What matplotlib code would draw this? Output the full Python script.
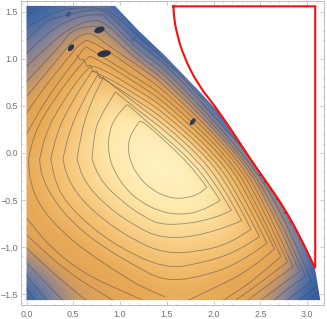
import numpy as np
import matplotlib
matplotlib.use("Agg")
import matplotlib.pyplot as plt
from matplotlib.colors import LinearSegmentedColormap
from matplotlib.patches import Ellipse, PathPatch, Polygon
from matplotlib.path import Path
from matplotlib.ticker import MultipleLocator

plt.rcParams['font.family'] = ['Liberation Sans', 'DejaVu Sans']

nan = float("nan")

# граница области
domain_x = [0, 0, 0.947, 1.2, 1.48, 1.835, 2.05, 2.41, 2.55, 2.747, 2.925, 3.086, 3.14]
domain_y = [-1.565, 1.565, 1.565, 1.3, 1.035, 0.67, 0.44, -0.09, -0.287, -0.57, -0.89, -1.24, -1.565]

# красный контур
red_x = [1.57, 1.575, 1.606, 1.675, 1.835, 2.05, 2.41, 2.55, 2.747, 2.925, 3.086, 3.086, 1.57]
red_y = [1.56, 1.45, 1.276, 1.04, 0.72, 0.457, -0.09, -0.287, -0.57, -0.89, -1.227, 1.56, 1.56]

# значения поля (номер уровня) на сетке
grid_x = [0, .25, .5, .75, 1, 1.25, 1.5, 1.75, 2, 2.25, 2.5, 2.75, 3, 3.25]
grid_y = [1.5, 1.25, 1, .75, .5, .25, 0, -.25, -.5, -.75, -1, -1.25, -1.5]
field = [
    [17.5, 16.5, 15.5, 14.7, 17, 18, 18.5, 18.5, 18.5, 18.5, 18.5, 18.5, 18.5, 18.5],
    [15.4, 13.6, 11.5, 10.3, 13.3, 18, 19, 19, 19, 19, 19, 19, 19, 19],
    [13.5, 12, 9.3, 8.2, 10.3, 13, 16.5, 19, 19.5, 19.5, 19.5, 19.5, 19.5, 19.5],
    [12, 10, 7.3, 4.6, 7.4, 9, 11.9, 15, 19, 19.5, 19.5, 19.5, 19.5, 19.5],
    [10.4, 8, 5.8, 3.5, 2.7, 5, 8, 11.7, 16.5, 19, 19.5, 19.5, 19.5, 19.5],
    [9.2, 7.2, 4.8, 2.9, 1.4, .7, 3, 7, 12.6, 17.5, 19, 19.5, 19.5, 19.5],
    [8.5, 6.1, 4.4, 2.7, 1.4, .3, .3, 2, 7, 12, 19, 19.5, 19.5, 19.5],
    [8.2, 6.2, 4.6, 3.1, 1.9, .7, 0, .8, 2.7, 7.5, 13, 19, 19.5, 19.5],
    [8.6, 6.8, 5.4, 4.2, 3, 1.9, 1.3, 1.2, 1.9, 5.2, 10, 15.5, 19, 19.5],
    [9.3, 7.6, 7, 5.6, 4.3, 3.4, 2.8, 2.7, 3.2, 4.2, 7.5, 12, 19, 19.5],
    [10.9, 9, 8.3, 7.2, 6, 5.2, 4.5, 4.5, 4.9, 5.7, 6.8, 10.5, 15.5, 19],
    [14.5, 11.3, 9.5, 8.8, 8, 7, 6, 6.4, 6.8, 7.7, 8.8, 10.5, 15.5, 19],
    [17, 14.5, 11.4, 10.2, 9.4, 8.6, 8, 7.8, 8.3, 9.6, 11, 13.5, 17.5, 18],
]

# линии уровня (x, y)
c1 = [(1.207, .334), (1.125, .227), (1.082, .085), (1.107, -.092), (1.196, -.251), (1.338, -.393), (1.535, -.482),
      (1.713, -.482), (1.855, -.429), (1.927, -.365), (1.82, -.216), (1.642, -.021), (1.428, .174), (1.249, .334), (1.207, .334)]
c2 = [(1.071, .511), (.946, .387), (.875, .192), (.875, -.003), (.929, -.18), (1.053, -.375), (1.214, -.517), (1.428, -.624),
      (1.641, -.659), (1.855, -.624), (2.069, -.507), (1.945, -.305), (1.748, -.074), (1.535, .121), (1.285, .334), (1.089, .511), (1.071, .511)]
c3 = [(.70, -.07), (.72, .21), (.79, .39), (.95, .65), (1.21, .44), (1.48, .24), (1.82, -.07), (2.02, -.33), (2.19, -.61),
      (2.0, -.71), (1.48, -.78), (1.25, -.68), (1.0, -.50), (.79, -.29), (.70, -.07)]
c4 = [(.54, -.07), (.58, .2), (.67, .5), (.82, .80), (1.21, .49), (1.48, .30), (1.89, -.07), (2.11, -.38), (2.30, -.72),
      (2.0, -.85), (1.48, -.925), (1.14, -.77), (.82, -.535), (.61, -.29), (.54, -.07)]
c5 = [(.39, -.07), (.44, .2), (.61, .57), (.76, .83), (.9, .74), (1.21, .54), (1.48, .36), (1.96, -.07), (2.20, -.43), (2.40, -.81),
      (2.19, -.96), (1.84, -1.05), (1.48, -1.07), (1.14, -.925), (.82, -.71), (.57, -.48), (.43, -.25), (.39, -.07)]
c6 = [(.26, -.07), (.31, .2), (.50, .57), (.70, .87), (.80, .84), (1.21, .60), (1.48, .42), (2.02, -.07), (2.27, -.47), (2.49, -.89),
      (2.26, -1.05), (1.84, -1.18), (1.48, -1.23), (1.0, -1.01), (.68, -.78), (.43, -.535), (.31, -.32), (.26, -.07)]
c7 = [(.14, -.07), (.19, .2), (.40, .57), (.65, .91), (.75, .93), (1.21, .66), (1.48, .48), (2.08, -.07), (2.34, -.50), (2.57, -.96),
      (2.3, -1.16), (1.9, -1.31), (1.48, -1.37), (1.14, -1.19), (.79, -.98), (.50, -.75), (.29, -.50), (.16, -.25), (.14, -.07)]
c8 = [(.02, -.07), (.07, .2), (.29, .57), (.60, .97), (.68, 1.03), (.8, .98), (1.21, .72), (1.48, .54), (2.14, -.07), (2.41, -.54), (2.65, -1.02),
      (2.4, -1.24), (2.0, -1.44), (1.72, -1.57), (nan, nan), (1.48, -1.53), (1.25, -1.44), (.96, -1.26), (.64, -1.05), (.36, -.82), (.145, -.57), (.04, -.32), (.02, -.07)]
c9 = [(0, .2), (.2, .57), (.55, 1.02), (.60, 1.10), (.64, 1.13), (.75, 1.06), (1.21, .78), (1.48, .60), (2.19, -.07), (2.47, -.57), (2.72, -1.10),
      (2.44, -1.35), (2.10, -1.57), (nan, nan), (1.25, -1.57), (.96, -1.44), (.61, -1.28), (.25, -1.0), (0, -.69)]
c10 = [(0, .42), (.11, .6), (.50, 1.08), (.55, 1.14), (.64, 1.20), (.75, 1.17), (1.21, .85), (1.48, .66), (2.24, -.07), (2.53, -.60), (2.79, -1.16),
       (2.5, -1.38), (2.23, -1.57), (nan, nan), (.93, -1.57), (.79, -1.49), (.39, -1.23), (0, -.87)]
c11 = [(0, .60), (.45, 1.14), (.50, 1.2), (.61, 1.27), (.715, 1.27), (.86, 1.15), (1.21, .92), (1.48, .72), (2.28, -.07), (2.58, -.62), (2.85, -1.21),
       (2.6, -1.39), (2.36, -1.57), (nan, nan), (.64, -1.57), (.32, -1.315), (0, -1.01)]
c12 = [(0, .76), (.40, 1.18), (.465, 1.29), (.64, 1.35), (.785, 1.345), (.93, 1.22), (1.21, .97), (1.48, .78), (2.32, -.07), (2.64, -.65), (2.92, -1.26),
       (2.7, -1.42), (2.5, -1.57), (nan, nan), (.39, -1.57), (0, -1.17)]
c13 = [(0, .92), (.33, 1.24), (.54, 1.36), (.68, 1.415), (.84, 1.40), (1.21, 1.02), (1.48, .84), (2.35, -.07), (2.69, -.67), (2.98, -1.31),
       (2.8, -1.44), (2.64, -1.57), (nan, nan), (.22, -1.57), (0, -1.30)]
c14 = [(0, 1.06), (.255, 1.31), (.465, 1.415), (.64, 1.47), (.82, 1.47), (.93, 1.36), (1.21, 1.08), (1.48, .90), (2.38, -.07), (2.72, -.62), (3.05, -1.37),
       (2.92, -1.46), (2.78, -1.57), (nan, nan), (.09, -1.57), (0, -1.44)]
c15 = [(0, 1.20), (.18, 1.38), (.27, 1.43), (.465, 1.475), (.64, 1.52), (.82, 1.52), (.91, 1.45), (1.21, 1.15), (1.48, .96), (2.39, -.03), (nan, nan),
       (3.1, -1.42), (2.91, -1.57)]
c16 = [(0, 1.33), (.2, 1.46), (.42, 1.535), (.62, 1.545), (.82, 1.54), (.95, 1.47), (1.21, 1.22), (1.48, 1.0), (1.9, .56), (nan, nan), (3.13, -1.47), (3.01, -1.57)]
c17 = [(0, 1.45), (.11, 1.54)]
levels = [c1, c2, c3, c4, c5, c6, c7, c8, c9, c10, c11, c12, c13, c14, c15, c16, c17]

# зубцы на гребне
ridge_x = [.537, .573, .608, .651, .68, .715, .751, .787, .822]
ridge_y = [1.043, .99, .997, .919, .937, .866, .876, .795, .805]

# тёмные пятна
blob_x = [.448, .78, .476, .83, 1.143, 1.777]
blob_y = [1.476, 1.31, 1.12, 1.057, 1.213, .333]
blob_w = [.065, .115, .085, .145, .065, .085]
blob_h = [.04, .065, .05, .07, .04, .045]
blob_a = [45, 20, 50, 10, 45, 50]
blob_c = ["#3d5478", "#27344a", "#27344a", "#27344a", "#50688c", "#333c4c"]

# квадратики у красной границы
edge_x = [2.497, 2.55, 2.615, 2.675, 2.765, 2.829, 2.925, 2.96, 3.03]
edge_y = [-.234, -.305, -.393, -.492, -.641, -.73, -.907, -.968, -1.12]

# цвета
stops = [(0, "#FFF3C6"), (2, "#FFE8AA"), (5, "#F6C67A"), (8, "#E9AB57"), (10, "#E2A256"), (11, "#CF9A62"), (12, "#B08F78"),
         (14, "#7A7F9C"), (16, "#4A6CA8"), (18, "#2D5AA5"), (20, "#2D5AA5")]
cmap = LinearSegmentedColormap.from_list("sun", [(s / 20, col) for s, col in stops])


# Кривая Безье по точкам, острые углы сохраняются
def curve(points):
    verts, codes = [], []
    pts = np.array(points, dtype=float)
    breaks = [-1] + list(np.where(np.isnan(pts[:, 0]))[0]) + [len(pts)]
    for a, b in zip(breaks[:-1], breaks[1:]):
        seg = pts[a + 1:b]
        if len(seg) < 2:
            continue
        verts.append(seg[0])
        codes.append(Path.MOVETO)
        for i in range(1, len(seg) - 1):
            u = seg[i] - seg[i - 1]
            v = seg[i + 1] - seg[i]
            cos = np.dot(u, v) / (np.linalg.norm(u) * np.linalg.norm(v) + 1e-9)
            if cos < 0.72:
                verts.append(seg[i])
                codes.append(Path.LINETO)
            else:
                verts += [seg[i], (seg[i] + seg[i + 1]) / 2]
                codes += [Path.CURVE3, Path.CURVE3]
        verts.append(seg[-1])
        codes.append(Path.LINETO)
    return Path(verts, codes)


def main():
    fig = plt.figure(figsize=(3.27, 3.19), dpi=100)
    ax = fig.add_axes([20.7 / 327, 1 - 305 / 319, (324 - 20.7) / 327, (305 - 1) / 319])

    clip = Polygon(np.column_stack([domain_x, domain_y]), closed=True, transform=ax.transData)

    im = ax.imshow(field, extent=(grid_x[0] - .125, grid_x[-1] + .125, grid_y[-1] - .125, grid_y[0] + .125),
                   cmap=cmap, vmin=0, vmax=20, interpolation="bicubic", aspect="auto")
    im.set_clip_path(clip)

    ax.scatter(edge_x, edge_y, s=3.5, marker="s", color="#3f5f96", linewidths=0, zorder=2)

    for c in levels:
        patch = PathPatch(curve(c), fill=False, edgecolor="#4a4a4a", alpha=0.55, lw=0.6, zorder=3)
        ax.add_patch(patch)
        patch.set_clip_path(clip)
    ax.plot(ridge_x, ridge_y, color="#4a4a4a", alpha=0.55, lw=0.6, zorder=3)

    for i in range(len(blob_x)):
        ax.add_patch(Ellipse((blob_x[i], blob_y[i]), blob_w[i], blob_h[i], angle=blob_a[i], color=blob_c[i], lw=0, zorder=4))

    ax.add_patch(PathPatch(curve(list(zip(red_x, red_y))), fill=False, edgecolor="#f01010", lw=1.5,
                           capstyle="projecting", zorder=5))

    ax.set_xlim(-0.062, 3.18)
    ax.set_ylim(-1.617, 1.617)
    ax.xaxis.set_major_locator(MultipleLocator(0.5))
    ax.xaxis.set_minor_locator(MultipleLocator(0.1))
    ax.yaxis.set_major_locator(MultipleLocator(0.5))
    ax.yaxis.set_minor_locator(MultipleLocator(0.1))
    ax.tick_params(which="major", direction="in", length=3, width=0.5, color="#b5b5b5", top=True, right=True,
                   labelsize=6.4, labelcolor="#707070")
    ax.tick_params(which="minor", direction="in", length=1.5, width=0.4, color="#c0c0c0", top=True, right=True)
    ax.tick_params(axis="x", which="major", pad=3.5)
    ax.tick_params(axis="y", which="major", pad=1.8)
    for s in ax.spines.values():
        s.set_color("#bdbdbd")
        s.set_linewidth(0.7)

    fig.savefig("out.png", dpi=100)


if __name__ == "__main__":
    main()
